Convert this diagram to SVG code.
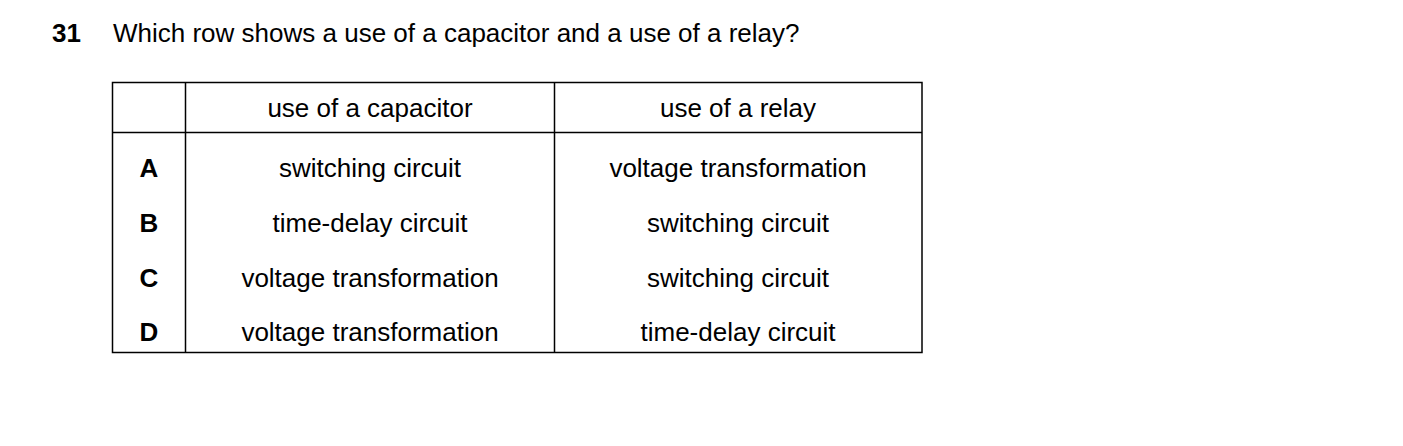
<svg xmlns="http://www.w3.org/2000/svg" width="1403" height="446" viewBox="0 0 1403 446">
<style>
text{font-family:"Liberation Sans",Arial,sans-serif;font-size:26px;fill:#000}
.c{text-anchor:middle}
.b{font-weight:bold}
line,rect{stroke:#000;stroke-width:1.5;fill:none}
</style>
<rect width="1403" height="446" fill="#fff" style="stroke:none"/>
<text x="52" y="42" class="b">31</text>
<text x="113" y="42">Which row shows a use of a capacitor and a use of a relay?</text>
<g id="table">
<rect x="112.5" y="82.5" width="809.5" height="270"/>
<line x1="185.5" y1="82.5" x2="185.5" y2="352.5"/>
<line x1="554.5" y1="82.5" x2="554.5" y2="352.5"/>
<line x1="112.5" y1="132.5" x2="922" y2="132.5"/>
</g>
<g id="texts">
<text x="370" y="117" class="c">use of a capacitor</text>
<text x="738" y="117" class="c">use of a relay</text>
<text x="149" y="177" class="c b">A</text>
<text x="370" y="177" class="c">switching circuit</text>
<text x="738" y="177" class="c">voltage transformation</text>
<text x="149" y="232" class="c b">B</text>
<text x="370" y="232" class="c">time-delay circuit</text>
<text x="738" y="232" class="c">switching circuit</text>
<text x="149" y="287" class="c b">C</text>
<text x="370" y="287" class="c">voltage transformation</text>
<text x="738" y="287" class="c">switching circuit</text>
<text x="149" y="341" class="c b">D</text>
<text x="370" y="341" class="c">voltage transformation</text>
<text x="738" y="341" class="c">time-delay circuit</text>
</g>
</svg>
